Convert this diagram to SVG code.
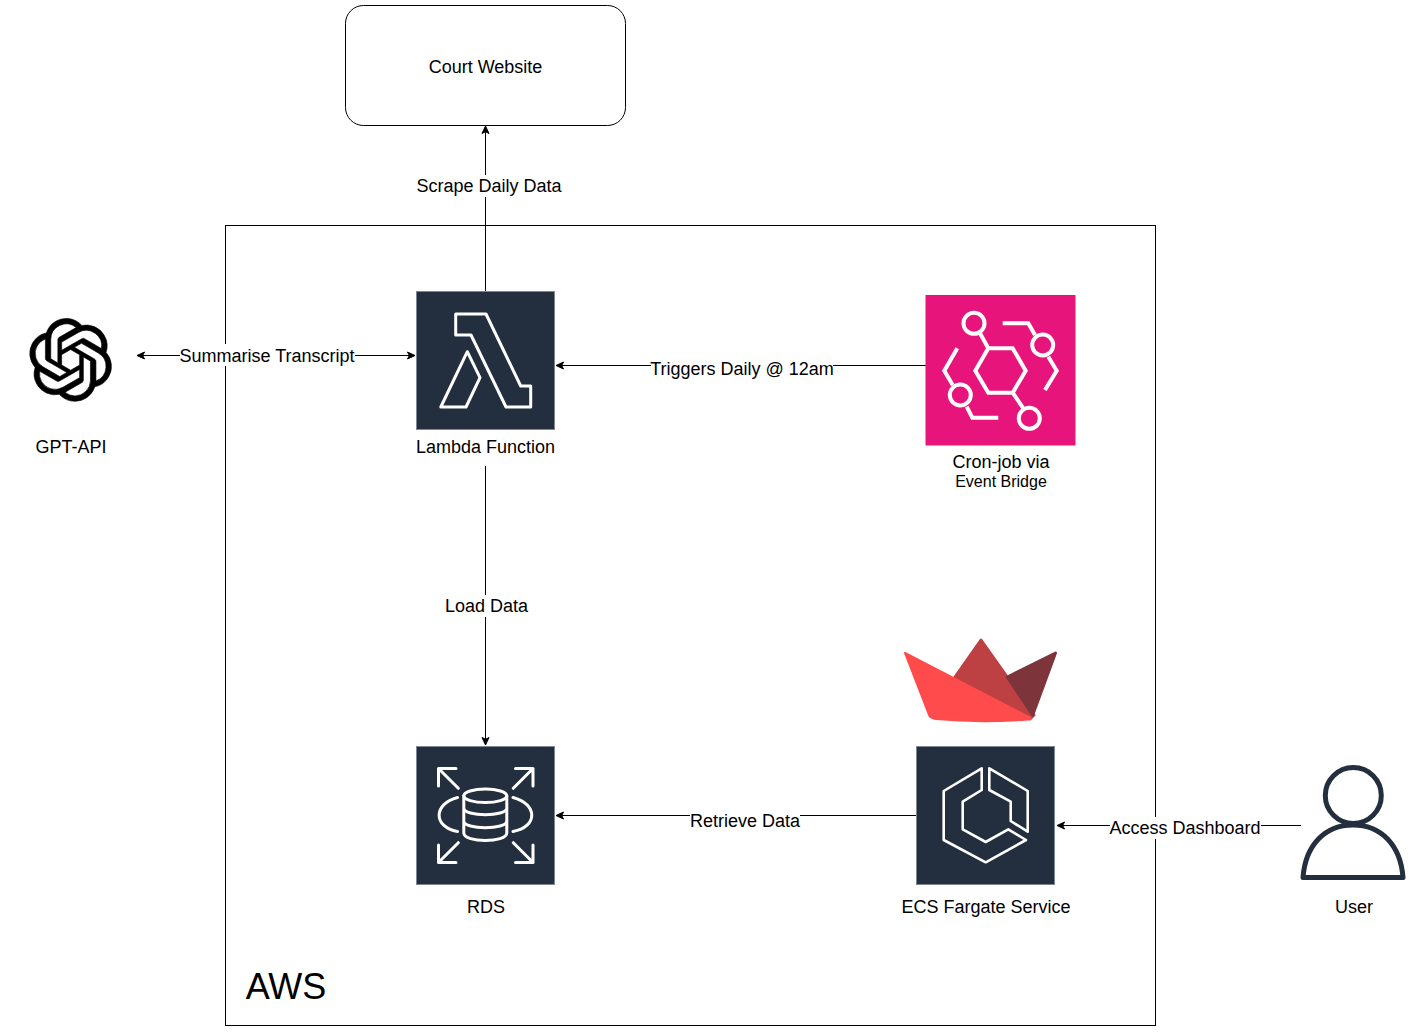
<svg xmlns="http://www.w3.org/2000/svg" width="1415" height="1032" viewBox="0 0 1415 1032">
<defs>
<marker id="arrow" markerUnits="userSpaceOnUse" markerWidth="10" markerHeight="10" refX="8.5" refY="5" orient="auto-start-reverse" overflow="visible"><path d="M1 1.5L8.5 5L1 8.5L2.8 5Z" fill="#000" stroke="#000" stroke-width="1"/></marker>
</defs>
<style>
text{font-family:"Liberation Sans",Arial,sans-serif;font-size:18px;fill:#000;text-anchor:middle}
.edge{fill:none;stroke:#000;stroke-width:1}
.end{marker-end:url(#arrow)}
.both{marker-start:url(#arrow);marker-end:url(#arrow)}
.box{stroke:#7d8793;stroke-width:1;fill:#232f3e}
.ico{fill:none;stroke:#fff;stroke-linejoin:round;stroke-linecap:round;stroke-width:2.6}
.eb{fill:none;stroke:#fff;stroke-width:4;stroke-linejoin:miter}
.bg{fill:#fff}
</style>
<rect width="1415" height="1032" fill="#fff"/>
<g id="aws"><rect x="225.500" y="225.500" width="930" height="800" fill="none" stroke="#000"/><text x="286" y="999" style="font-size:36px">AWS</text></g>
<g id="connectors">
<path class="edge end" d="M485.500 291V126"/>
<path class="edge both" d="M137 355.500H415"/>
<path class="edge end" d="M926 365.500H556"/>
<path class="edge end" d="M485.500 466V745"/>
<path class="edge end" d="M916 815.500H556"/>
<path class="edge end" d="M1301 825.500H1057"/>
<rect class="bg" x="417" y="175" width="145" height="22"/><text x="489" y="192">Scrape Daily Data</text>
<rect class="bg" x="180" y="344" width="175" height="22"/><text x="267" y="362">Summarise Transcript</text>
<rect class="bg" x="651" y="358" width="182" height="22"/><text x="742" y="375">Triggers Daily @ 12am</text>
<rect class="bg" x="445" y="595" width="83" height="22"/><text x="486.500" y="612">Load Data</text>
<rect class="bg" x="690" y="810" width="110" height="22"/><text x="745" y="827">Retrieve Data</text>
<rect class="bg" x="1110" y="817" width="151" height="22"/><text x="1185" y="834">Access Dashboard</text>
</g>
<g id="court"><rect x="345.500" y="5.500" width="280" height="120" rx="18" fill="#fff" stroke="#000"/><text x="485.500" y="73">Court Website</text></g>
<g id="gpt"><path transform="translate(29.200 318.500) scale(3.45)" d="M22.2819 9.8211a5.9847 5.9847 0 0 0-.5157-4.9108 6.0462 6.0462 0 0 0-6.5098-2.9A6.0651 6.0651 0 0 0 4.9807 4.1818a5.9847 5.9847 0 0 0-3.9977 2.9 6.0462 6.0462 0 0 0 .7427 7.0966 5.98 5.98 0 0 0 .511 4.9107 6.051 6.051 0 0 0 6.5146 2.9001A5.9847 5.9847 0 0 0 13.2599 24a6.0557 6.0557 0 0 0 5.7718-4.2058 5.9894 5.9894 0 0 0 3.9977-2.9001 6.0557 6.0557 0 0 0-.7475-7.0729zm-9.022 12.6081a4.4755 4.4755 0 0 1-2.8764-1.0408l.1419-.0804 4.7783-2.7582a.7948.7948 0 0 0 .3927-.6813v-6.7369l2.02 1.1686a.071.071 0 0 1 .038.052v5.5826a4.504 4.504 0 0 1-4.4945 4.4944zm-9.6607-4.1254a4.4708 4.4708 0 0 1-.5346-3.0137l.142.0852 4.783 2.7582a.7712.7712 0 0 0 .7806 0l5.8428-3.3685v2.3324a.0804.0804 0 0 1-.0332.0615L9.74 19.9502a4.4992 4.4992 0 0 1-6.1408-1.6464zM2.3408 7.8956a4.485 4.485 0 0 1 2.3655-1.9728V11.6a.7664.7664 0 0 0 .3879.6765l5.8144 3.3543-2.0201 1.1685a.0757.0757 0 0 1-.071 0l-4.8303-2.7865A4.504 4.504 0 0 1 2.3408 7.872zm16.5963 3.8558L13.1038 8.364 15.1192 7.2a.0757.0757 0 0 1 .071 0l4.8303 2.7913a4.4944 4.4944 0 0 1-.6765 8.1042v-5.6772a.79.79 0 0 0-.407-.667zm2.0107-3.0231l-.142-.0852-4.7735-2.7818a.7759.7759 0 0 0-.7854 0L9.409 9.2297V6.8974a.0662.0662 0 0 1 .0284-.0615l4.8303-2.7866a4.4992 4.4992 0 0 1 6.6802 4.66zM8.3065 12.863l-2.02-1.1638a.0804.0804 0 0 1-.038-.0567V6.0742a4.4992 4.4992 0 0 1 7.3757-3.4537l-.142.0805L8.704 5.459a.7948.7948 0 0 0-.3927.6813zm1.0976-2.3654l2.602-1.4998 2.6069 1.4998v2.9994l-2.5974 1.4997-2.6067-1.4997Z" fill="#000" stroke="#000" stroke-width="0.18"/><text x="71" y="453">GPT-API</text></g>
<g id="lambda"><rect class="box" x="416.500" y="291.500" width="138" height="138"/>
<path class="ico" style="stroke-width:3" d="M455.700 314H486L520.700 386H530.700V407H506L471 335H455.700ZM467.300 351.700L480 377.700L466 407H440.800Z"/>
<rect class="bg" x="416" y="436" width="140" height="22"/><text x="485.500" y="453">Lambda Function</text></g>
<g id="eventbridge"><rect x="925.500" y="295" width="150" height="150.500" fill="#e7157b"/>
<path class="eb" d="M988.300 348.300H1012.700L1025.700 370.700L1012.700 392.700H988.300L975.300 370.700ZM980 333.300L988.300 348.300M1012.700 392.700L1023.300 408.300M1002.700 323.300H1028.300L1035 335M1048.300 356.700L1056.700 370.700L1045 390M957.300 348.300L944.300 370.700L952.700 385M966.700 406.700L972.300 417.700H998.300"/>
<circle class="eb" cx="974" cy="323.300" r="10.500"/><circle class="eb" cx="1042.700" cy="345" r="10.500"/><circle class="eb" cx="960.300" cy="395" r="10.500"/><circle class="eb" cx="1029.300" cy="418.300" r="10.500"/>
<text x="1001" y="468">Cron-job via</text><text x="1001" y="487" style="font-size:16px">Event Bridge</text></g>
<g id="rds"><rect class="box" x="416.500" y="746.500" width="138" height="138"/>
<g class="ico" style="stroke-width:3"><path d="M438.500 786V768.500H456M438.500 768.500L458.300 788.300M533 786V768.500H515.500M533 768.500L513.300 788.300M438.500 845V862.500H456M438.500 862.500L458.300 842.700M533 845V862.500H515.500M533 862.500L513.300 842.700"/>
<path d="M457.500 797.500C433 804 433 827 457.500 831.500M513 797.500C538 804 538 827 513 831.500"/>
<ellipse cx="485.300" cy="795.800" rx="21.500" ry="6.800"/><path d="M463.800 795.800V833C463.800 843 506.800 843 506.800 833V795.800M463.800 808C463.800 817 506.800 817 506.800 808M463.800 821C463.800 830 506.800 830 506.800 821"/></g>
<text x="486" y="913">RDS</text></g>
<g id="ecs"><rect class="box" x="916.500" y="746.500" width="138" height="138"/>
<path class="ico" d="M981.700 768.300L943.700 791V840L985.700 862.300L1026 840L1008.300 829.300L985.700 842L962.700 829.300V801.700L981.700 790ZM989.300 768.300L1027.700 791V831.700L1010.700 821V801.700L989.300 790Z"/>
<text x="986" y="913">ECS Fargate Service</text></g>
<g id="streamlit">
<path d="M955 677L981 640L1034 715L1030 719Z" fill="#bd4043" stroke="#bd4043" stroke-linejoin="round" stroke-width="3"/>
<path d="M1007.300 677L1055.500 653L1032.700 715Z" fill="#7d353b" stroke="#7d353b" stroke-linejoin="round" stroke-width="3"/>
<path d="M905 653L1030 717.500Q1032 719 1028 719.500Q980 723 936 719Q930 718 929 715Z" fill="#ff4b4b" stroke="#ff4b4b" stroke-linejoin="round" stroke-width="2"/>
</g>
<g id="user"><circle cx="1353.300" cy="795.500" r="28" fill="none" stroke="#232f3e" stroke-width="5"/><path d="M1303 877.500C1305.500 845 1325 825 1353 825C1381 825 1400.500 845 1403 877.500Z" fill="none" stroke="#232f3e" stroke-width="5" stroke-linejoin="round"/><text x="1354" y="913">User</text></g>
</svg>
